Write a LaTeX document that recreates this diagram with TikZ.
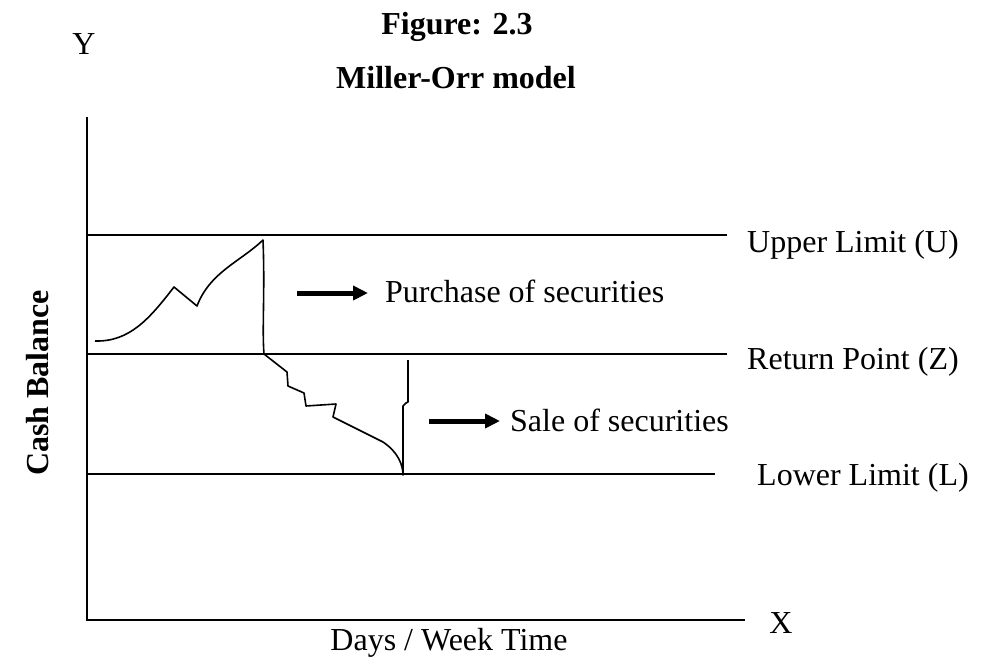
\documentclass[tikz,border=0pt]{standalone}
\usepackage{fontspec}
\setmainfont{Liberation Serif}
\usetikzlibrary{arrows.meta}
\begin{document}
\begin{tikzpicture}[x=1pt,y=-1pt,
  lbl/.style={font=\fontsize{32}{37}\selectfont, inner sep=0pt},
  ttl/.style={font=\fontsize{32}{37}\selectfont\bfseries, inner sep=0pt},
  limit/.style={line width=1.6pt},
  trace/.style={line width=1.6pt, line join=round},
  bigarrow/.style={line width=5pt, -{Triangle[length=15pt,width=14pt]}}]
\useasboundingbox (0,0) rectangle (983,659);

% titles
\node[ttl, anchor=base] (fig) at (457,34) {Figure: 2.3};
\node[ttl, anchor=base] (mo) at (456,88) {Miller-Orr model};

% axes
\coordinate (o) at (87,620);
\coordinate (ytop) at (87,117);
\coordinate (xend) at (745,620);
\draw[limit] (ytop) -- (o) -- (xend);
\node[lbl, anchor=base] (ylab) at (84,54) {Y};
\node[lbl, anchor=base] (xlab) at (781,633) {X};
\node[ttl, rotate=90] (cash) at (38,383) {Cash Balance};
\node[lbl, anchor=base] (days) at (449,650) {Days / Week Time};

% control limits
\coordinate (u0) at (87,235);  \coordinate (u1) at (727,235);
\coordinate (z0) at (87,354);  \coordinate (z1) at (727,354);
\coordinate (l0) at (87,474);  \coordinate (l1) at (715,474);
\draw[limit] (u0) -- (u1);
\draw[limit] (z0) -- (z1);
\draw[limit] (l0) -- (l1);
\node[lbl, anchor=base west] (ul) at (747,252) {Upper Limit (U)};
\node[lbl, anchor=base west] (rp) at (747,369) {Return Point (Z)};
\node[lbl, anchor=base west] (ll) at (757,485) {Lower Limit (L)};

% cash balance rising to the upper limit, then reset to Z
\coordinate (a0) at (95,341);
\coordinate (a1) at (174,287);
\coordinate (a2) at (197,306);
\coordinate (a3) at (263,240);
\coordinate (a4) at (264,354);
\draw[trace] (a0) .. controls (130,342) and (150,318) .. (a1)
  -- (a2) .. controls (210,272) and (240,262) .. (a3)
  .. controls (265,290) and (262,330) .. (a4);

% cash balance falling to the lower limit, then reset to Z
\coordinate (b0) at (264,354);
\coordinate (b1) at (287,372);
\coordinate (b2) at (288,386);
\coordinate (b3) at (304,393);
\coordinate (b4) at (306,406);
\coordinate (b5) at (336,404);
\coordinate (b6) at (333,417);
\coordinate (b7) at (403,475);
\coordinate (b9) at (408,360);
\draw[trace] (b0) -- (b1) -- (b2) -- (b3) -- (b4) -- (b5) -- (b6)
  -- (383,442) .. controls (398,452) and (403,465) .. (b7)
  -- (403,406) -- (406,403) -- (408,402) -- (b9);

% annotations
\coordinate (p0) at (297,293); \coordinate (p1) at (368,293);
\draw[bigarrow] (p0) -- (p1);
\node[lbl, anchor=base west] (purch) at (385,302) {Purchase of securities};
\coordinate (s0) at (429,421); \coordinate (s1) at (500,421);
\draw[bigarrow] (s0) -- (s1);
\node[lbl, anchor=base west] (sale) at (510,431) {Sale of securities};
\end{tikzpicture}
\end{document}
